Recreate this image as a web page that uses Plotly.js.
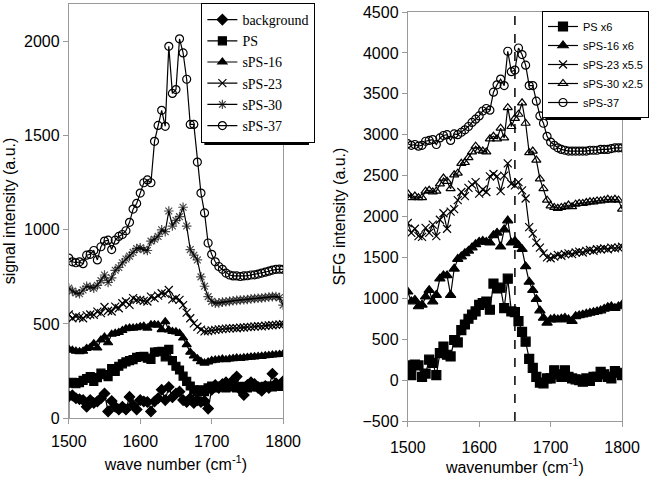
<!DOCTYPE html>
<html>
<head>
<meta charset="utf-8">
<script src="https://cdn.plot.ly/plotly-3.0.1.min.js"></script>
<style>
  html, body { margin: 0; padding: 0; background: #fff; }
  #plot { width: 649px; height: 478px; }
</style>
</head>
<body>
<div id="plot"></div>
<script>
// wavenumber grid (cm-1), shared by every series
var wn = [1500, 1505, 1510, 1515, 1520, 1525, 1530, 1535, 1540, 1545,
  1550, 1555, 1560, 1565, 1570, 1575, 1580, 1585, 1590, 1595,
  1600, 1605, 1610, 1615, 1620, 1625, 1630, 1635, 1640, 1645,
  1650, 1655, 1660, 1665, 1670, 1675, 1680, 1685, 1690, 1695,
  1700, 1705, 1710, 1715, 1720, 1725, 1730, 1735, 1740, 1745,
  1750, 1755, 1760, 1765, 1770, 1775, 1780, 1785, 1790, 1795, 1800];

// ---- left panel: raw signal ----
var bgLeft = [115, 120, 105, 100, 95, 60, 95, 80, 88, 105,
  130, 35, 90, 60, 45, 60, 45, 112, 70, 45,
  95, 88, 85, 35, 88, 105, 150, 95, 165, 110,
  130, 140, 95, 85, 105, 80, 95, 85, 90, 50,
  150, 175, 160, 180, 190, 170, 200, 220, 150, 122,
  175, 190, 180, 160, 145, 170, 160, 235, 185, 175, 195];
var psLeft = [185, 190, 182, 188, 200, 210, 220, 195, 215, 238,
  230, 220, 262, 248, 275, 288, 298, 305, 310, 322,
  326, 328, 318, 312, 350, 352, 354, 325, 365, 305,
  275, 255, 222, 195, 170, 150, 140, 150, 140, 160,
  170, 160, 165, 170, 160, 165, 170, 160, 165, 168,
  160, 165, 170, 165, 162, 168, 170, 165, 172, 168, 175];
var sps16Left = [365, 360, 355, 352, 355, 370, 375, 395, 372, 415,
  430, 400, 445, 450, 455, 465, 475, 478, 478, 480,
  485, 488, 478, 495, 496, 494, 470, 512, 468, 460,
  458, 450, 425, 390, 350, 330, 315, 300, 292, 298,
  305, 308, 310, 313, 310, 314, 316, 319, 317, 320,
  322, 324, 325, 327, 328, 331, 332, 335, 336, 338, 340];
var sps23Left = [550, 530, 540, 535, 530, 545, 550, 548, 565, 557,
  590, 570, 566, 592, 583, 610, 619, 601, 637, 628,
  628, 622, 619, 645, 637, 650, 663, 660, 680, 630,
  637, 628, 600, 560, 530, 503, 485, 470, 460, 462,
  466, 468, 471, 472, 475, 476, 478, 477, 480, 481,
  483, 484, 486, 488, 487, 490, 492, 493, 495, 497, 498];
var sps30Left = [690, 675, 665, 660, 680, 700, 695, 690, 705, 730,
  760, 720, 745, 785, 800, 825, 845, 860, 880, 900,
  905, 895, 890, 940, 950, 965, 1000, 990, 1100, 1020,
  1050, 1070, 1120, 1020, 895, 865, 840, 750, 700, 645,
  620, 610, 612, 616, 618, 620, 623, 625, 627, 628,
  630, 633, 635, 636, 638, 640, 643, 645, 646, 640, 600];
var sps37Left = [850, 830, 825, 830, 820, 865, 870, 890, 840, 910,
  940, 945, 895, 945, 965, 975, 995, 1040, 1110, 1140,
  1195, 1250, 1265, 1250, 1470, 1555, 1635, 1550, 1975, 1725,
  1745, 2015, 1940, 1800, 1560, 1560, 1360, 1195, 1090, 930,
  870, 830, 805, 790, 770, 760, 755, 755, 752, 755,
  756, 760, 761, 765, 770, 775, 780, 786, 790, 791, 790];

// the sPS-30 trace rises from zero at the left edge before its first reading
var sps30Lead = 0;

// ---- right panel: scaled SFG ----
var psRight = [180, 60, 190, 180, 40, 80, 250, 210, 60, 330,
  410, 310, 290, 490, 460, 610, 680, 750, 800, 840,
  920, 940, 960, 860, 1180, 1120, 1130, 880, 1240, 840,
  830, 720, 590, 470, 260, 150, 40, -30, -40, 20,
  20, 120, 70, 40, 120, 40, 20, 10, 0, -20,
  20, -10, 40, 40, 100, 70, 40, 20, 110, 90, 60];
var sps16Right = [1080, 960, 980, 900, 920, 1020, 1100, 960, 1040, 1240,
  1280, 1280, 1040, 1360, 1480, 1510, 1550, 1580, 1620, 1660,
  1690, 1700, 1690, 1680, 1770, 1800, 1630, 1840, 1950, 1680,
  1700, 1650, 1600, 1390, 1200, 1100, 990, 850, 760, 700,
  740, 750, 740, 750, 760, 740, 720, 780, 790, 800,
  810, 820, 830, 840, 850, 870, 890, 900, 880, 900, 920];
var sps23Right = [1920, 1800, 1850, 1760, 1750, 1860, 1800, 1900, 1760, 1960,
  2040, 1850, 2060, 2090, 2200, 2300, 2250, 2350, 2390, 2420,
  2280, 2330, 2300, 2490, 2520, 2490, 2310, 2500, 2650, 2400,
  2380, 2420, 2320, 2220, 1870, 1790, 1680, 1620, 1550, 1500,
  1490, 1510, 1530, 1520, 1540, 1550, 1540, 1560, 1570, 1560,
  1580, 1590, 1580, 1600, 1600, 1610, 1600, 1620, 1610, 1620, 1630];
var sps30Right = [2280, 2230, 2250, 2230, 2230, 2310, 2320, 2300, 2310, 2400,
  2470, 2430, 2340, 2510, 2530, 2650, 2660, 2720, 2790, 2860,
  2810, 2800, 2790, 2950, 2980, 2950, 3080, 2960, 3330, 3100,
  3200, 3250, 3390, 3140, 2780, 2800, 2690, 2460, 2340, 2200,
  2130, 2110, 2100, 2110, 2120, 2140, 2120, 2150, 2160, 2160,
  2170, 2180, 2180, 2190, 2190, 2200, 2210, 2200, 2210, 2200, 2090];
var sps37Right = [2890, 2870, 2880, 2860, 2870, 2920, 2930, 2940, 2880, 2960,
  2990, 3000, 2930, 3010, 3000, 3030, 3060, 3100, 3150, 3190,
  3230, 3290, 3320, 3300, 3520, 3610, 3680, 3600, 4020, 3770,
  3790, 4060, 3980, 3850, 3600, 3600, 3410, 3230, 3140, 2980,
  2910, 2870, 2840, 2820, 2810, 2800, 2800, 2800, 2800, 2800,
  2800, 2810, 2810, 2810, 2820, 2820, 2820, 2830, 2840, 2840, 2840];

var refLine = 1650; // dashed marker on the right panel

var leftNames = ['background', 'PS', 'sPS-16', 'sPS-23', 'sPS-30', 'sPS-37'];
var rightNames = ['PS x6', 'sPS-16 x6', 'sPS-23 x5.5', 'sPS-30 x2.5', 'sPS-37'];

function series(name, xs, ys, symbol, size, ax, legend) {
  return {
    x: xs, y: ys, name: name,
    type: 'scatter', mode: 'lines+markers',
    xaxis: ax[0], yaxis: ax[1], legend: legend,
    line: { color: 'black', width: 1.2 },
    marker: { symbol: symbol, size: size, color: 'black',
      line: { color: 'black', width: 1.2 } }
  };
}

var L = ['x', 'y'], R = ['x2', 'y2'];

var s30x = [wn[0]].concat(wn);
var s30y = [sps30Lead].concat(sps30Left);
var s30 = series(leftNames[4], s30x, s30y, 'asterisk-open', 8, L, 'legend');
s30.marker.size = s30x.map(function (v, i) { return i === 0 ? 0 : 8; });

var data = [
  series(leftNames[0], wn, bgLeft, 'diamond', 8, L, 'legend'),
  series(leftNames[1], wn, psLeft, 'square', 8, L, 'legend'),
  series(leftNames[2], wn, sps16Left, 'triangle-up', 8, L, 'legend'),
  series(leftNames[3], wn, sps23Left, 'x-thin-open', 8, L, 'legend'),
  s30,
  series(leftNames[5], wn, sps37Left, 'circle-open', 8, L, 'legend'),

  series(rightNames[0], wn, psRight, 'square', 9, R, 'legend2'),
  series(rightNames[1], wn, sps16Right, 'triangle-up', 9, R, 'legend2'),
  series(rightNames[2], wn, sps23Right, 'x-thin-open', 8, R, 'legend2'),
  series(rightNames[3], wn, sps30Right, 'triangle-up-open', 8, R, 'legend2'),
  series(rightNames[4], wn, sps37Right, 'circle-open', 8, R, 'legend2')
];

var W = 649, H = 478;
function px(v) { return v / W; }
function py(v) { return 1 - v / H; }

var axisBase = {
  showline: true, mirror: true, linecolor: '#9a9a9a', linewidth: 1,
  ticks: 'outside', ticklen: 5, tickcolor: '#9a9a9a',
  showgrid: false, zeroline: false,
  tickfont: { family: 'Liberation Sans, Arial, sans-serif', size: 16, color: 'black' }
};
function axis(extra) { return Object.assign({}, axisBase, extra); }

var titleFont = { family: 'Liberation Sans, Arial, sans-serif', size: 16, color: 'black' };

// legend boxes (pixel corners as drawn), used for the drop shadows
var legBoxL = [202, 3, 307, 142];
var legBoxR = [544, 11, 640, 117];
function shadow(b) {
  return { type: 'rect', xref: 'paper', yref: 'paper',
    x0: px(b[0] + 3), x1: px(b[2] + 3), y0: py(b[3] + 3), y1: py(b[1] + 3),
    fillcolor: 'black', line: { width: 0 }, layer: 'above' };
}

var layout = {
  width: W, height: H,
  margin: { l: 0, r: 0, t: 0, b: 0 },
  paper_bgcolor: 'white', plot_bgcolor: 'white',
  showlegend: true,
  xaxis: axis({ domain: [px(69), px(284)], range: [1500, 1800], tick0: 1500, dtick: 100, anchor: 'y',
    ticklabelstandoff: 4,
    title: { text: 'wave number (cm<sup>-1</sup>)', font: titleFont, standoff: 9 } }),
  yaxis: axis({ domain: [py(418), py(4)], range: [0, 2200], tick0: 0, dtick: 500, anchor: 'x',
    title: { text: 'signal intensity (a.u.)', font: titleFont, standoff: 4 } }),
  xaxis2: axis({ domain: [px(409), px(624)], range: [1500, 1800], tick0: 1500, dtick: 100, anchor: 'y2',
    ticklabelstandoff: 7,
    title: { text: 'wavenumber (cm<sup>-1</sup>)', font: titleFont, standoff: 1 } }),
  yaxis2: axis({ domain: [py(421), py(12)], range: [-500, 4500], tick0: -500, dtick: 500, anchor: 'x2',
    title: { text: 'SFG intensity (a.u.)', font: titleFont, standoff: 12 } }),
  legend: {
    x: px(legBoxL[0]), y: py(legBoxL[1]), xanchor: 'left', yanchor: 'top',
    bgcolor: 'white', bordercolor: 'black', borderwidth: 1,
    font: { family: 'Liberation Serif, Times New Roman, serif', size: 14, color: 'black' },
    itemwidth: 30, traceorder: 'normal'
  },
  legend2: {
    x: px(legBoxR[0]), y: py(legBoxR[1]), xanchor: 'left', yanchor: 'top',
    bgcolor: 'white', bordercolor: 'black', borderwidth: 1,
    font: { family: 'Liberation Sans, Arial, sans-serif', size: 11, color: 'black' },
    itemwidth: 30, traceorder: 'normal'
  },
  shapes: [
    { type: 'line', xref: 'x2', yref: 'y2 domain', x0: refLine, x1: refLine, y0: 0, y1: 1,
      line: { color: 'black', width: 1.5, dash: 'dash' } },
    shadow(legBoxL),
    shadow(legBoxR)
  ]
};

Plotly.newPlot('plot', data, layout, { displayModeBar: false, staticPlot: true });
</script>
</body>
</html>
